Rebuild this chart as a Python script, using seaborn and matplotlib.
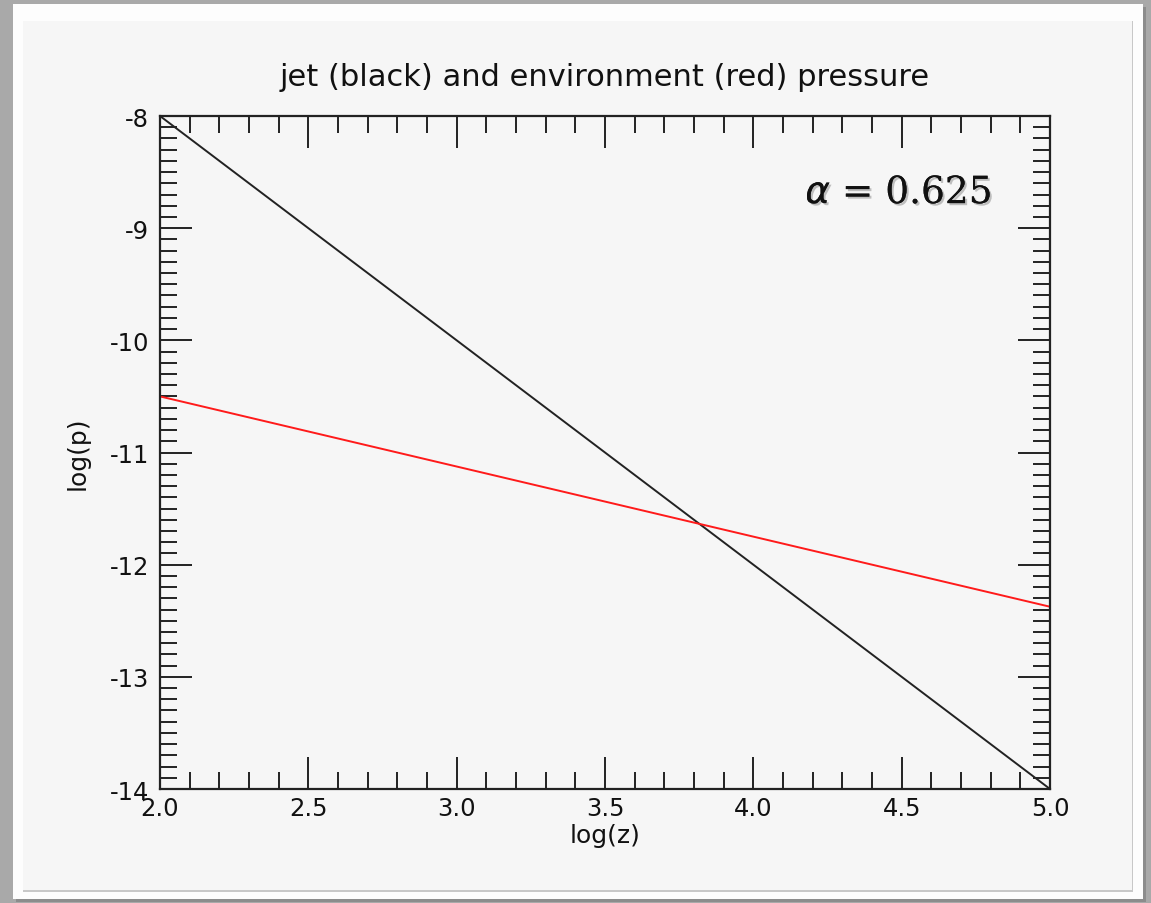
import matplotlib
matplotlib.use("Agg")
import matplotlib.pyplot as plt
import matplotlib.patches as mpatches
import matplotlib.patheffects as pe
from matplotlib.ticker import MultipleLocator, FormatStrFormatter
import seaborn as sns
import pandas as pd

# log(z) end points and the two pressure profiles
log_z = [2.0, 5.0]
jet_log_p = [-8.0, -14.0]
env_log_p = [-10.5, -12.375]
alpha_value = 0.625

sns.set_theme(style="white")
plt.rcParams["font.family"] = ["DejaVu Sans"]

W, H = 1151, 904
fig = plt.figure(figsize=(W / 100, H / 100), dpi=100)
fig.patch.set_facecolor("#a9a9a9")

def box(x0, y0, x1, y1, color, z):
    fig.patches.append(mpatches.Rectangle((x0 / W, 1 - y1 / H), (x1 - x0) / W, (y1 - y0) / H,
                                          transform=fig.transFigure, facecolor=color,
                                          edgecolor="none", zorder=z))

# framed panel
box(16, 8, 1146, 903, "#8c8c8c", -5)
box(13, 5, 1143, 900, "#fdfdfd", -4)
box(23, 22, 1133, 893, "#c8c8c8", -3)
box(23, 22, 1132, 891, "#f6f6f6", -2)

ax = fig.add_axes([160 / W, 1 - 790 / H, (1050 - 160) / W, (790 - 117) / H])
ax.set_facecolor("#f6f6f6")

df = pd.DataFrame({
    "log(z)": log_z * 2,
    "log(p)": jet_log_p + env_log_p,
    "profile": ["jet"] * 2 + ["environment"] * 2,
})
sns.lineplot(data=df, x="log(z)", y="log(p)", hue="profile",
             palette={"jet": "#222222", "environment": "#ff1a1a"},
             linewidth=1.4, legend=False, ax=ax)

ax.set_xlim(2.0, 5.0)
ax.set_ylim(-14, -8)
ax.xaxis.set_major_locator(MultipleLocator(0.5))
ax.xaxis.set_minor_locator(MultipleLocator(0.1))
ax.yaxis.set_major_locator(MultipleLocator(1))
ax.yaxis.set_minor_locator(MultipleLocator(0.1))
ax.xaxis.set_major_formatter(FormatStrFormatter("%.1f"))
ax.yaxis.set_major_formatter(FormatStrFormatter("%d"))

ax.tick_params(which="both", direction="in", top=True, right=True, bottom=True, left=True,
               color="#222222", width=1.4, labelsize=17.5, labelcolor="#111111")
ax.tick_params(axis="x", which="major", length=23, pad=5)
ax.tick_params(axis="x", which="minor", length=12)
ax.tick_params(axis="y", which="major", length=23, pad=8)
ax.tick_params(axis="y", which="minor", length=12)
for s in ax.spines.values():
    s.set_color("#222222")
    s.set_linewidth(1.6)

ax.set_xlabel("log(z)", fontsize=18, color="#111111", labelpad=2)
ax.set_ylabel("log(p)", fontsize=18, color="#111111", labelpad=14)
ax.set_title("jet (black) and environment (red) pressure", fontsize=22,
             color="#111111", pad=22)

ax.text(0.725, 0.885, r"$\alpha$ = " + f"{alpha_value:.3f}", transform=ax.transAxes,
        fontsize=27, family="DejaVu Serif", color="#111111", ha="left", va="center",
        path_effects=[pe.withSimplePatchShadow(offset=(1.5, -1.5), shadow_rgbFace="#999999", alpha=0.6),
                      pe.Normal()])

fig.savefig("out.png", dpi=100, facecolor=fig.get_facecolor())
